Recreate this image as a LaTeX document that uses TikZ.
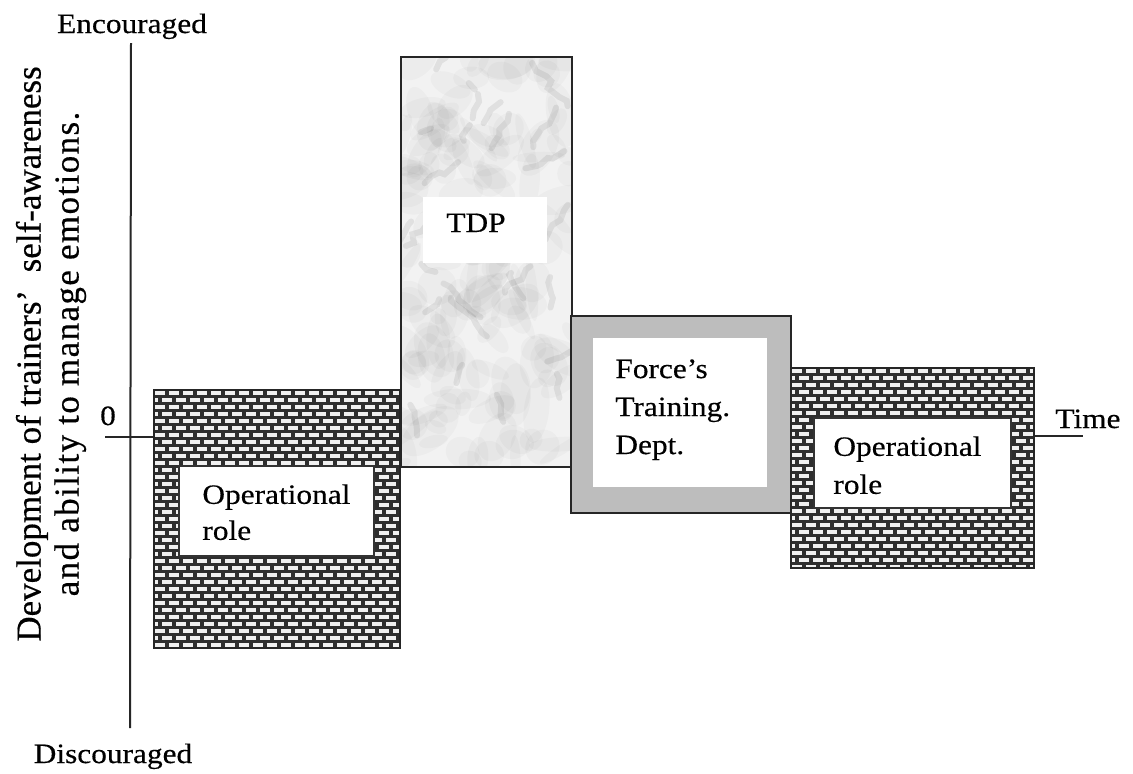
\documentclass[tikz,border=0pt]{standalone}
\usepackage{fontspec}
\setmainfont{Liberation Serif}[FakeStretch=1.12, FakeBold=0.4]
\newfontfamily\ylabfont{Liberation Serif}[FakeBold=0.4]
\usetikzlibrary{decorations.pathmorphing}
\newcommand\brickwall[4]{%
 \begin{scope}
  \clip (#1,#2) rectangle (#3,#4);
  \fill[mortar] (#1,#2) rectangle (#3,#4);
  \pgfmathtruncatemacro\nr{(#4-#2)/7+1}
  \pgfmathtruncatemacro\nc{(#3-#1)/14+1}
  \foreach \r in {0,...,\nr}{
    \pgfmathsetmacro\yy{#2+2+\r*7}
    \pgfmathsetmacro\xo{#1+2-mod(\r,2)*7}
    \foreach \c in {0,...,\nc}{
      \fill[brick] ({\xo+\c*14},\yy) rectangle ++(10,3.5);
    }
  }
 \end{scope}}
\begin{document}
\begin{tikzpicture}[x=0.5pt,y=-0.5pt,
  frame/.style={draw=black!85, line width=1pt, inner sep=0pt, anchor=north west},
  axisline/.style={draw=black!85, line width=1pt},
  lbl/.style={font=\fontsize{14}{19}\selectfont, inner sep=0pt},
  boxtext/.style={lbl, align=left, anchor=north west},
  mortar/.style={fill=black!82},
  brick/.style={fill=white!94!black},
  whitebox/.style={fill=white, inner sep=0pt, anchor=north west},
  marble/.style={fill=black, opacity=0.025}
]
\useasboundingbox[fill=white] (0,0) rectangle (1133,773);

% axes
\coordinate (ytop) at (131,43);
\coordinate (ybot) at (130,728);
\coordinate (xl) at (105,437);
\coordinate (xr) at (1083,436);
\draw[axisline] (ytop) -- (ybot);
\node[lbl, anchor=base] (enc) at (132,33) {Encouraged};
\node[lbl, anchor=base] (disc) at (113,763) {Discouraged};
\node[lbl, anchor=base] (zero) at (108,425) {0};
\node[lbl, anchor=base west] (time) at (1055,428) {Time};
\node[inner sep=0pt, rotate=90, align=center, font=\ylabfont\fontsize{17.5}{19}\selectfont] (ylab) at (51,354)
  {Development of trainers’\ \ self-awareness\\\addfontfeature{LetterSpace=4}and ability to manage emotions.};

% Box 1: operational role (bricks)
\brickwall{153}{389}{399}{647}
\node[frame, minimum width=123pt, minimum height=129pt] (op1) at (153,389) {};
\draw[axisline] (xl) -- (xl -| op1.west);
\node[whitebox, draw=black!80, line width=0.8pt, minimum width=97.5pt, minimum height=45pt] (op1in) at (178,465) {};
\node[boxtext, font=\fontsize{14}{18}\selectfont] (op1txt) at (202,484) {Operational\\role};

% Box 2: TDP (marble)
\begin{scope}
  \clip (400,56) rectangle (571,466);
  \fill[black!5] (400,56) rectangle (571,466);
  \pgfmathsetseed{11}
  \foreach \i in {1,...,170}{
    \pgfmathsetmacro\px{400+171*rnd}
    \pgfmathsetmacro\py{56+410*rnd}
    \pgfmathsetmacro\rx{8+26*rnd}
    \pgfmathsetmacro\ry{5+14*rnd}
    \pgfmathsetmacro\ang{180*rnd}
    \fill[marble, rotate around={\ang:(\px,\py)}] (\px,\py) ellipse ({\rx} and {\ry});
  }
  \foreach \i in {1,...,26}{
    \pgfmathsetmacro\px{400+171*rnd}
    \pgfmathsetmacro\py{56+410*rnd}
    \pgfmathsetmacro\dx{-45+90*rnd}
    \pgfmathsetmacro\dy{-45+90*rnd}
    \draw[black, opacity=0.07, line width=3pt, line cap=round, decorate, decoration={random steps, segment length=4pt, amplitude=2pt}] (\px,\py) -- ++(\dx,\dy);
  }
\end{scope}
\node[frame, minimum width=85.5pt, minimum height=205pt] (tdp) at (400,56) {};
\node[whitebox, minimum width=62pt, minimum height=33pt] (tdpin) at (423,197) {};
\node[lbl, anchor=base] (tdptxt) at (476,232) {TDP};

% Box 3: Force's Training Dept (grey frame)
\node[frame, fill=black!26, minimum width=110pt, minimum height=98.5pt] (ftd) at (570,315) {};
\node[whitebox, minimum width=87pt, minimum height=74.5pt] (ftdin) at (593,338) {};
\node[boxtext] (ftdtxt) at (615,359) {Force’s\\Training.\\Dept.};

% Box 4: operational role (bricks)
\brickwall{790}{367}{1033}{567}
\node[frame, minimum width=121.5pt, minimum height=100pt] (op2) at (790,367) {};
\draw[axisline] (op2.east |- xr) -- (xr);
\node[whitebox, draw=black!80, line width=0.8pt, minimum width=98.5pt, minimum height=45pt] (op2in) at (813,417) {};
\node[boxtext] (op2txt) at (833,436) {Operational\\role};
\end{tikzpicture}
\end{document}
